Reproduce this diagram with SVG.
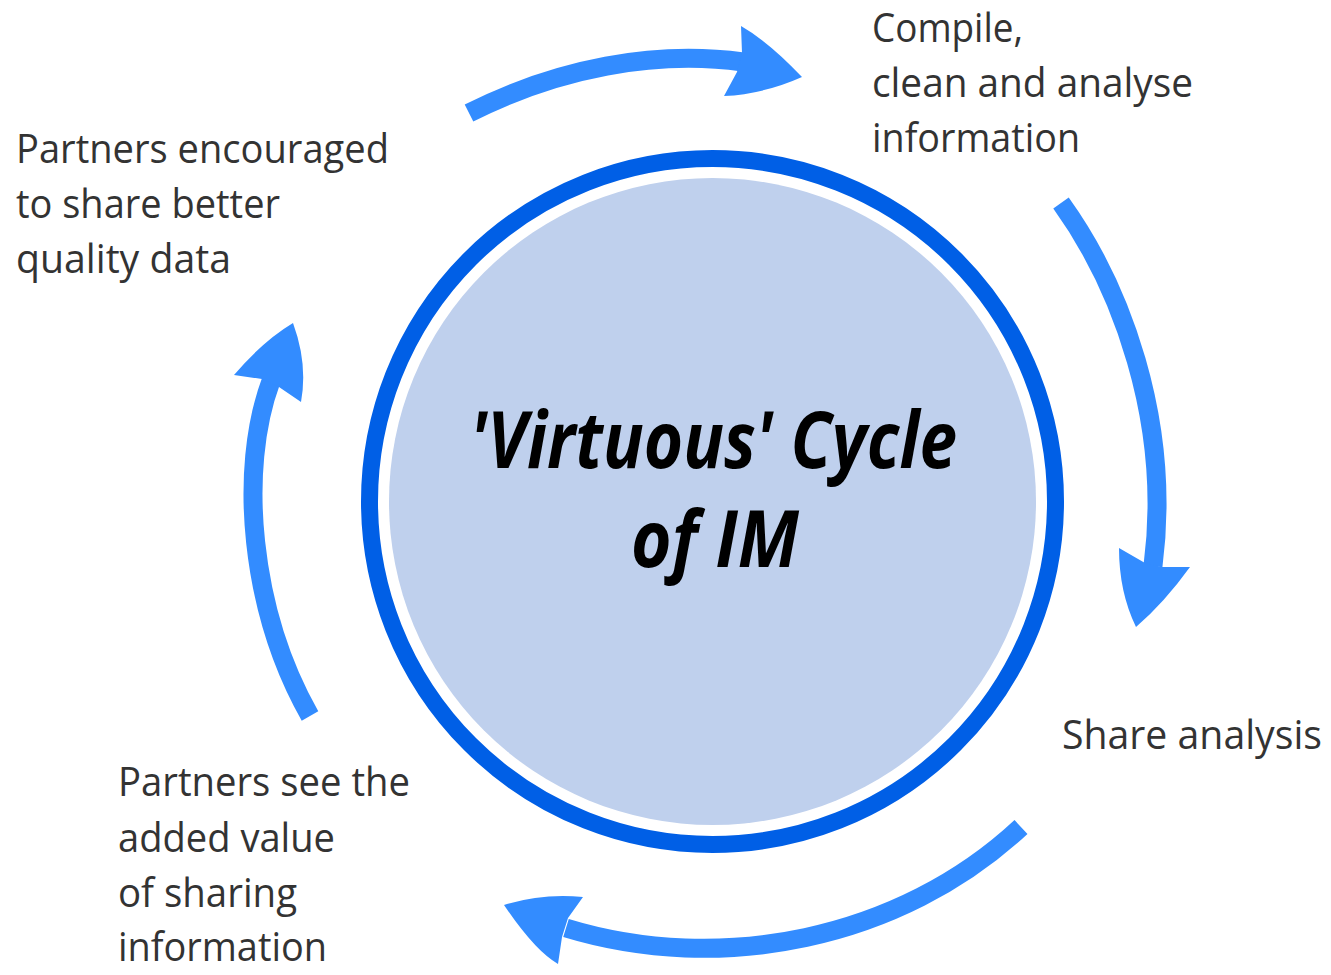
<svg xmlns="http://www.w3.org/2000/svg" width="1331" height="975" viewBox="0 0 1331 975">
<style>
.lbl{font-family:"Open Sans","Liberation Sans",sans-serif;font-size:40px;fill:#333333;}
.title{font-family:"Open Sans","Liberation Sans",sans-serif;font-size:78px;font-weight:bold;font-style:italic;fill:#000000;}
.body{fill:none;stroke:#338CFF;stroke-width:19;stroke-linecap:butt;}
.head{fill:#338CFF;stroke:none;}
</style>
<rect width="1331" height="975" fill="#ffffff"/>
<g id="center-node">
  <circle cx="712.5" cy="501.5" r="343" fill="none" stroke="#005FE6" stroke-width="17"/>
  <circle cx="712.5" cy="501.5" r="323.5" fill="#BFD0ED"/>
  <text class="title" x="470" y="468" textLength="487" lengthAdjust="spacingAndGlyphs">'Virtuous' Cycle</text>
  <text class="title" x="631" y="567" textLength="168" lengthAdjust="spacingAndGlyphs">of IM</text>
</g>
<g id="label-compile">
  <text class="lbl" x="872" y="42" textLength="151" lengthAdjust="spacingAndGlyphs">Compile,</text>
  <text class="lbl" x="872" y="97" textLength="321" lengthAdjust="spacingAndGlyphs">clean and analyse</text>
  <text class="lbl" x="872" y="152" textLength="208" lengthAdjust="spacingAndGlyphs">information</text>
</g>
<g id="label-share">
  <text class="lbl" x="1062" y="749" textLength="260" lengthAdjust="spacingAndGlyphs">Share analysis</text>
</g>
<g id="label-see-value">
  <text class="lbl" x="118" y="796" textLength="292" lengthAdjust="spacingAndGlyphs">Partners see the</text>
  <text class="lbl" x="118" y="852" textLength="217" lengthAdjust="spacingAndGlyphs">added value</text>
  <text class="lbl" x="118" y="907" textLength="179" lengthAdjust="spacingAndGlyphs">of sharing</text>
  <text class="lbl" x="118" y="961" textLength="209" lengthAdjust="spacingAndGlyphs">information</text>
</g>
<g id="label-encouraged">
  <text class="lbl" x="16" y="163" textLength="373" lengthAdjust="spacingAndGlyphs">Partners encouraged</text>
  <text class="lbl" x="16" y="218" textLength="264" lengthAdjust="spacingAndGlyphs">to share better</text>
  <text class="lbl" x="16" y="273" textLength="215" lengthAdjust="spacingAndGlyphs">quality data</text>
</g>
<g id="connectors">
  <path class="body" d="M469,113 C558,68 655,50 743,62"/>
  <path class="head" d="M741,26 Q769,42 802,77 Q764,94 724,96 L737,72 L742,53 Z"/>
  <path class="body" d="M1061,203 C1120,285 1172,420 1153,566"/>
  <path class="head" d="M1119,548 L1145,563 L1162,567 L1190,567 Q1164,603 1136,627 Q1119,592 1119,548 Z"/>
  <path class="body" d="M1021,827 C900,940 720,975 566,928"/>
  <path class="head" d="M583,897 L568,918 L562,937 L558,964 Q535,951 504,905 Q542,893 583,897 Z"/>
  <path class="body" d="M310,716 C250,610 238,470 271,381"/>
  <path class="head" d="M234,375 Q263,341 293,323 Q308,364 301,402 L279,387 L262,379 Z"/>
</g>
</svg>
